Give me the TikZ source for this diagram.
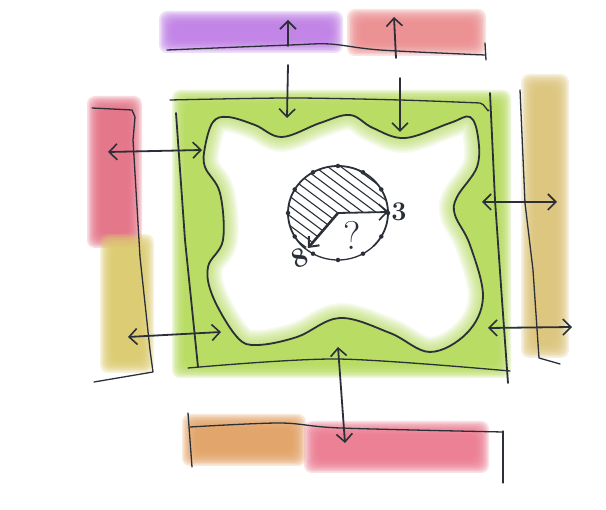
\documentclass[tikz,border=0pt]{standalone}
\usepackage{fontspec}
\usetikzlibrary{arrows.meta}
\definecolor{ink}{HTML}{2B2F38}
\definecolor{cpurple}{HTML}{C07EE6}
\definecolor{cpinkA}{HTML}{EC8C8E}
\definecolor{cpinkB}{HTML}{E57085}
\definecolor{cyellowA}{HTML}{DCCA6C}
\definecolor{cyellowB}{HTML}{DDC47A}
\definecolor{corange}{HTML}{E2A265}
\definecolor{cpinkC}{HTML}{EC7A90}
\definecolor{cgreen}{HTML}{B6DB5C}
\newcommand{\softbar}[5]{%
  \foreach \k in {0,...,9}{%
    \fill[#1, opacity=0.24, rounded corners=8pt]
      ({#2-6+1.5*\k},{#3-6+1.5*\k}) rectangle ({#4+6-1.5*\k},{#5+6-1.5*\k});
  }}
\tikzset{
  pen/.style={draw=ink, line width=1.8pt, line cap=round, line join=round},
  thinpen/.style={draw=ink, line width=1.3pt, line cap=round, line join=round},
  tip/.style={-{Straight Barb[length=8pt,width=16pt,line width=1.6pt]}},
  dtip/.style={{Straight Barb[length=8pt,width=16pt,line width=1.6pt]}-{Straight Barb[length=8pt,width=16pt,line width=1.6pt]}},
  dot/.style={circle, fill=ink, inner sep=0pt, minimum size=4.5pt},
  hand/.style={text=ink, inner sep=0pt}
}
\begin{document}
\begin{tikzpicture}[x=1pt,y=-1pt]
\useasboundingbox (0,0) rectangle (606,510);
\fill[white] (0,0) rectangle (606,510);

% coloured soft bars
\softbar{cpurple}{165}{17}{337}{47}
\softbar{cpinkA}{353}{15}{480}{50}
\softbar{cpinkB}{93}{102}{136}{242}
\softbar{cyellowA}{106}{240}{148}{367}
\softbar{cyellowB}{527}{80}{563}{352}
\softbar{corange}{188}{420}{300}{460}
\softbar{cpinkC}{310}{427}{483}{467}
\softbar{cgreen}{178}{96}{505}{372}

% white interior of the cell
\def\wave{(213,122) (228,117) (255,125) (282,137) (320,123) (350,115) (373,128) (405,138) (450,123) (470,117) (478,137) (477,167) (457,197) (455,215) (470,245) (483,297) (467,333) (430,352) (390,333) (340,318) (297,337) (257,345) (237,337) (213,297) (208,267) (223,240) (220,193) (205,167) (205,147)}
\fill[white] plot[smooth cycle, tension=0.6] coordinates {\wave};
\begin{scope}
  \clip plot[smooth cycle, tension=0.6] coordinates {\wave};
  \foreach \w in {3,6,...,30}
    \draw[cgreen, opacity=0.11, line width=\w pt] plot[smooth cycle, tension=0.6] coordinates {\wave};
\end{scope}
\draw[pen] plot[smooth cycle, tension=0.6] coordinates {\wave};

% top section
\draw[thinpen] plot[smooth, tension=0.5] coordinates {(167,50) (290,45) (330,44) (380,50) (485,55)};
\draw[thinpen] (485,43) -- (486,60);
\coordinate (u1a) at (288,46); \coordinate (u1b) at (288,20);
\coordinate (u2a) at (396,58); \coordinate (u2b) at (394,17);
\coordinate (d1a) at (288,65); \coordinate (d1b) at (287,118);
\coordinate (d2a) at (400,78); \coordinate (d2b) at (400,132);
\draw[pen, tip] (u1a) -- (u1b);
\draw[pen, tip] (u2a) -- (u2b);
\draw[pen, tip] (d1a) -- (d1b);
\draw[pen, tip] (d2a) -- (d2b);

% cell wall lines
\draw[thinpen] plot[smooth, tension=0.5] coordinates {(170,100) (290,98) (400,100) (480,103)} to[out=0,in=-95] (489,110);
\draw[pen] (176,113) -- (185,240) -- (198,367);
\draw[pen] (490,93) -- (495,200) -- (502,300) -- (508,383);
\draw[thinpen] plot[smooth, tension=0.5] coordinates {(188,368) (337,359) (510,371)};

% bottom section
\draw[thinpen] plot[smooth, tension=0.5] coordinates {(190,427) (280,423) (340,428) (503,432)};
\draw[thinpen] (188,413) -- (192,467);
\draw[thinpen] (503,431) -- (503,483);
\coordinate (va) at (338,347); \coordinate (vb) at (345,443);
\draw[pen, dtip] (va) -- (vb);

% left bracket
\draw[thinpen] (92,108) -- (132,110) -- (135,117) -- (133,140) -- (140,257) -- (150,350) -- (153,372) -- (94,382);
\coordinate (l1a) at (108,152); \coordinate (l1b) at (202,150);
\coordinate (l2a) at (128,337); \coordinate (l2b) at (221,332);
\draw[pen, dtip] (l1a) -- (l1b);
\draw[pen, dtip] (l2a) -- (l2b);

% right bracket
\draw[thinpen] (520,90) -- (525,203) -- (533,270) -- (539,358) -- (560,364);
\coordinate (r1a) at (482,202); \coordinate (r1b) at (557,202);
\coordinate (r2a) at (488,328); \coordinate (r2b) at (572,327);
\draw[pen, dtip] (r1a) -- (r1b);
\draw[pen, dtip] (r2a) -- (r2b);

% nucleus / clock
\coordinate (c) at (338,213);
\begin{scope}
  \clip (c) -- plot[domain=0:229, samples=50] ({338+50*cos(\x)},{213-47*sin(\x)}) -- cycle;
  \foreach \i in {-10,...,10}
    \draw[ink, line width=1.1pt] ({338+\i*13-90},{213-67}) -- ({338+\i*13+90},{213+67});
\end{scope}
\draw[pen] plot[domain=-45:229, samples=80] ({338+50*cos(\x)},{213-47*sin(\x)});
\draw[thinpen] plot[domain=229:315, samples=40] ({338+50*cos(\x)},{213-47*sin(\x)});
\foreach \a/\n in {0/h3,30/h2,60/h1,90/h12,120/h11,150/h10,180/h9,210/h8x,240/h7,270/h6,300/h5,330/h4}
  \node[dot] (\n) at ({338+50*cos(\a)},{213-47*sin(\a)}) {};
\coordinate (t3) at (388,212);
\coordinate (t8) at (308,248);
\draw[pen, tip] (c) -- (t3);
\draw[ink, line width=2.6pt, line cap=round, -{Straight Barb[length=8pt,width=14pt,line width=2pt]}] (c) -- (t8);
\node[hand, font=\fontsize{27}{27}\selectfont\bfseries] (n3) at (399,212) {3};
\node[hand, rotate=25, font=\fontsize{28}{28}\selectfont\bfseries] (n8) at (300,258) {8};
\node[hand, font=\fontsize{40}{40}\selectfont] (q) at (352,235) {?};
\end{tikzpicture}
\end{document}
